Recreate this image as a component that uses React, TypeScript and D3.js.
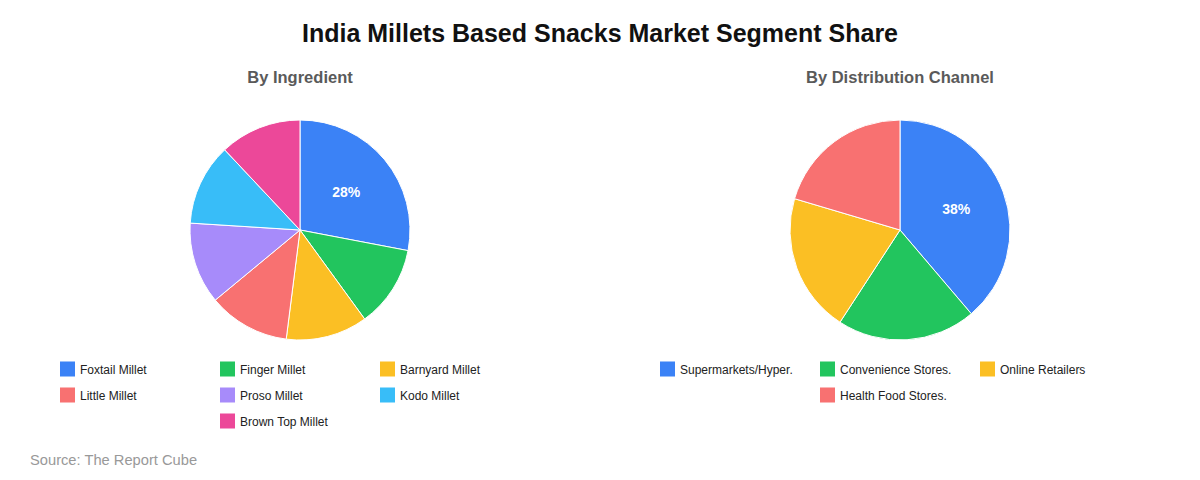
import React from "react";
import * as d3 from "d3";

const ingredientLabels = ["Foxtail Millet", "Finger Millet", "Barnyard Millet", "Little Millet", "Proso Millet", "Kodo Millet", "Brown Top Millet"];
const ingredientValues = [28, 12, 12, 12, 12, 12, 12];
const ingredientColors = ["#3b82f6", "#22c55e", "#fbbf24", "#f87171", "#a78bfa", "#38bdf8", "#ec4899"];

const channelLabels = ["Supermarkets/Hyper.", "Convenience Stores.", "Online Retailers", "Health Food Stores."];
const channelValues = [38, 20, 20, 20];
const channelColors = ["#3b82f6", "#22c55e", "#fbbf24", "#f87171"];

const FONT = "'Liberation Sans', Arial, Helvetica, sans-serif";

function Pie({ cx, title, labels, values, colors }: { cx: number; title: string; labels: string[]; values: number[]; colors: string[] }) {
  const cy = 230;
  const r = 110;
  const pie = d3.pie<number>().sort(null).value((d) => d);
  const arcs = pie(values);
  const arcGen = d3.arc<d3.PieArcDatum<number>>().innerRadius(0).outerRadius(r);
  const cols = 3;
  const colW = 160;
  const nRows = Math.ceil(labels.length / cols);
  return (
    <g>
      <text x={cx} y={83} textAnchor="middle" fontFamily={FONT} fontSize={16.5} fontWeight="bold" fill="#5a5a5a">{title}</text>
      <g transform={`translate(${cx},${cy})`}>
        {arcs.map((a, i) => (
          <path key={i} d={arcGen(a) || ""} fill={colors[i]} stroke="#fff" strokeWidth={1} />
        ))}
        {arcs.slice(0, 1).map((a, i) => {
          const mid = (a.startAngle + a.endAngle) / 2;
          const lr = 60;
          return (
            <text key={i} x={lr * Math.sin(mid)} y={-lr * Math.cos(mid)} dy="0.35em" textAnchor="middle" fontFamily={FONT} fontSize={14} fontWeight="bold" fill="#fff">
              {`${values[0]}%`}
            </text>
          );
        })}
      </g>
      {labels.map((l, i) => {
        const row = Math.floor(i / cols);
        const inRow = row === nRows - 1 ? labels.length - row * cols : cols;
        const col = i % cols;
        const rowStart = cx - (inRow * colW) / 2;
        const x = rowStart + col * colW;
        const y = 369.5 + row * 26;
        return (
          <g key={l}>
            <rect x={x} y={y - 8} width={15} height={15} fill={colors[i]} />
            <text x={x + 20} y={y} dy="0.35em" fontFamily={FONT} fontSize={12} fill="#222">{l}</text>
          </g>
        );
      })}
    </g>
  );
}

export default function App() {
  return (
    <svg width={1200} height={480} style={{ position: "absolute", left: 0, top: 0, background: "#fff" }}>
      <rect width={1200} height={480} fill="#fff" />
      <text x={600} y={42} textAnchor="middle" fontFamily={FONT} fontSize={25} fontWeight="bold" fill="#111">
        India Millets Based Snacks Market Segment Share
      </text>
      <Pie cx={300} title="By Ingredient" labels={ingredientLabels} values={ingredientValues} colors={ingredientColors} />
      <Pie cx={900} title="By Distribution Channel" labels={channelLabels} values={channelValues} colors={channelColors} />
      <text x={30} y={465} fontFamily={FONT} fontSize={14.7} fill="#999">Source: The Report Cube</text>
    </svg>
  );
}
